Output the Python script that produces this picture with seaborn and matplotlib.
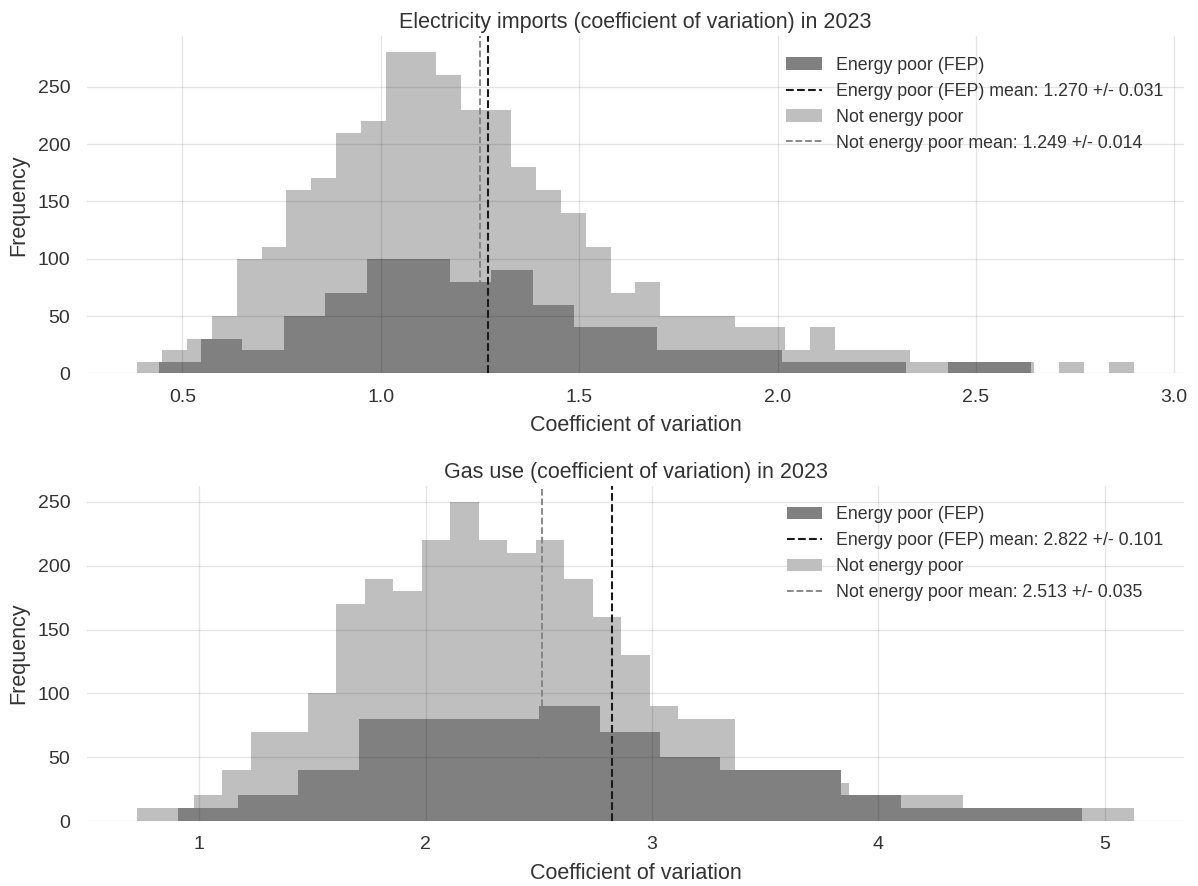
import numpy as np
import matplotlib
matplotlib.use("Agg")
import matplotlib.pyplot as plt
import seaborn as sns

# ---------------- data ----------------
# Electricity imports (top)
elec_fep_range = (0.441, 2.639)
elec_fep_counts = [10, 30, 20, 50, 70, 100, 100, 80, 90, 60, 40, 40, 20, 20, 20,
                   10, 10, 10, 0, 10, 10]
elec_not_range = (0.385, 2.899)
elec_not_counts = [10, 20, 30, 50, 100, 110, 160, 170, 210, 220,
                   280, 280, 260, 230, 230, 180, 160, 140, 110, 70,
                   80, 50, 50, 50, 40, 40, 20, 40, 20, 20,
                   20, 10, 10, 10, 10, 10, 0, 10, 0, 10]
elec_fep_mean, elec_fep_err = 1.270, 0.031
elec_not_mean, elec_not_err = 1.249, 0.014

# Gas use (bottom)
gas_fep_range = (0.905, 4.899)
gas_fep_counts = [10, 20, 40, 80, 80, 80, 90, 70, 50, 40, 40, 20, 10, 10, 10]
gas_not_range = (0.725, 5.129)
gas_not_counts = [10, 10, 20, 40, 70, 70, 100, 170, 190, 180,
                  220, 250, 220, 210, 220, 190, 160, 130, 90, 80,
                  80, 40, 40, 30, 30, 20, 20, 20, 20, 10,
                  10, 10, 10, 10, 10]
gas_fep_mean, gas_fep_err = 2.822, 0.101
gas_not_mean, gas_not_err = 2.513, 0.035

titles = ["Electricity imports (coefficient of variation) in 2023",
          "Gas use (coefficient of variation) in 2023"]
xlabel = "Coefficient of variation"
ylabel = "Frequency"
label_fep = "Energy poor (FEP)"
label_not = "Not energy poor"

# ---------------- style ----------------
sns.set_theme(style="whitegrid")
plt.rcParams["font.family"] = ["Liberation Sans", "DejaVu Sans"]
plt.rcParams["text.color"] = "#333333"
plt.rcParams["axes.labelcolor"] = "#333333"
plt.rcParams["xtick.color"] = "#333333"
plt.rcParams["ytick.color"] = "#333333"

DARK = "#808080"
LIGHT = "#bfbfbf"

fig = plt.figure(figsize=(11.98, 8.86), dpi=100)
W, H = 1198, 886
ax1 = fig.add_axes([87 / W, 1 - 373.3 / H, (1184 - 87) / W, (373.3 - 36.4) / H])
ax2 = fig.add_axes([87 / W, 1 - 821 / H, (1184 - 87) / W, (821 - 486) / H])


def centers(rng, counts):
    n = len(counts)
    edges = np.linspace(rng[0], rng[1], n + 1)
    return (edges[:-1] + edges[1:]) / 2


def panel(ax, title, fep_rng, fep_counts, not_rng, not_counts,
          fep_mean, fep_err, not_mean, not_err):
    sns.histplot(x=centers(not_rng, not_counts), weights=not_counts,
                 bins=len(not_counts), binrange=not_rng, element="step",
                 fill=True, color=LIGHT, alpha=1, linewidth=0, ax=ax,
                 label=label_not, zorder=1)
    sns.histplot(x=centers(fep_rng, fep_counts), weights=fep_counts,
                 bins=len(fep_counts), binrange=fep_rng, element="step",
                 fill=True, color=DARK, alpha=1, linewidth=0, ax=ax,
                 label=label_fep, zorder=2)
    l1 = ax.axvline(fep_mean, color="#1a1a1a", ls="--", lw=1.5, zorder=3,
                    label=f"{label_fep} mean: {fep_mean:.3f} +/- {fep_err:.3f}")
    l2 = ax.axvline(not_mean, color="#808080", ls="--", lw=1.3, zorder=3,
                    label=f"{label_not} mean: {not_mean:.3f} +/- {not_err:.3f}")
    ax.set_axisbelow(False)
    ax.grid(True, color="black", alpha=0.1, lw=1.0)
    ax.set_title(title, fontsize=15.5, pad=6)
    ax.set_xlabel(xlabel, fontsize=15.5, labelpad=7)
    ax.set_ylabel(ylabel, fontsize=15.5, labelpad=6)
    ax.tick_params(labelsize=14, length=0)
    ax.tick_params(axis="x", pad=11)
    ax.tick_params(axis="y", pad=12)
    for s in ax.spines.values():
        s.set_visible(False)
    h, lab = ax.get_legend_handles_labels()
    order = [lab.index(label_fep), lab.index(l1.get_label()),
             lab.index(label_not), lab.index(l2.get_label())]
    ax.legend([h[i] for i in order], [lab[i] for i in order],
              loc="upper right", frameon=False, fontsize=12.8,
              borderaxespad=0.75)


panel(ax1, titles[0], elec_fep_range, elec_fep_counts, elec_not_range,
      elec_not_counts, elec_fep_mean, elec_fep_err, elec_not_mean, elec_not_err)
panel(ax2, titles[1], gas_fep_range, gas_fep_counts, gas_not_range,
      gas_not_counts, gas_fep_mean, gas_fep_err, gas_not_mean, gas_not_err)

fig.savefig("out.png", dpi=100)
